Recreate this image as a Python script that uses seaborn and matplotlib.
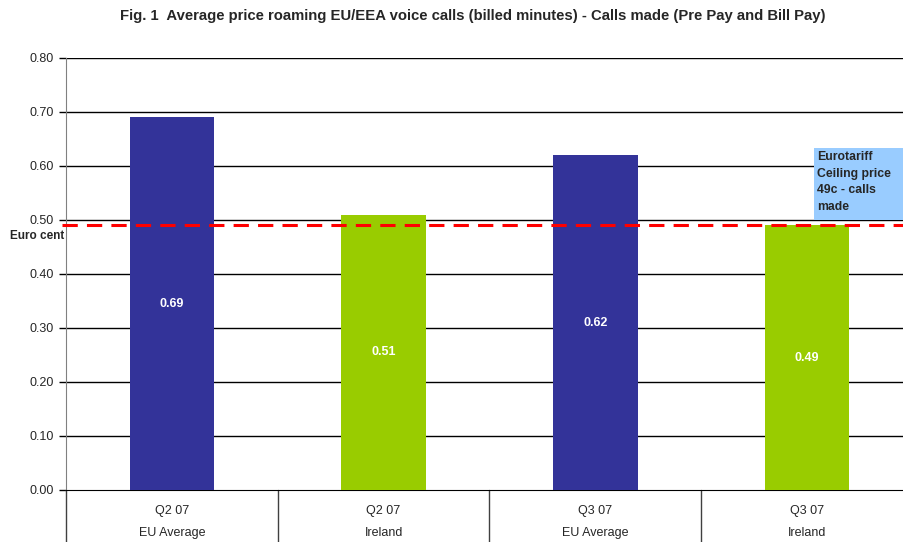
import matplotlib
matplotlib.use("Agg")
import matplotlib.pyplot as plt
import matplotlib.transforms as mtransforms
import seaborn as sns

# data
periods = ["Q2 07", "Q2 07", "Q3 07", "Q3 07"]
regions = ["EU Average", "Ireland", "EU Average", "Ireland"]
prices = [0.69, 0.51, 0.62, 0.49]
bar_colors = ["#333399", "#99cc00", "#333399", "#99cc00"]
ceiling = 0.49
ceiling_note = "Eurotariff\nCeiling price\n49c - calls\nmade"
yticks = [0.0, 0.1, 0.2, 0.3, 0.4, 0.5, 0.6, 0.7, 0.8]

cats = [p + "\n" + r for p, r in zip(periods, regions)]

sns.set_style("white")
plt.rcParams["font.family"] = ["Liberation Sans", "DejaVu Sans"]

fig = plt.figure(figsize=(9.04, 5.42), dpi=100)
W, H = 904, 542
# axes from x=66 to ~913 (runs past the right edge), y from 58 to 490
ax = fig.add_axes([66 / W, 1 - 490 / H, (913 - 66) / W, (490 - 58) / H])

sns.barplot(x=cats, y=prices, hue=cats, palette=bar_colors, legend=False,
            width=0.4, saturation=1, linewidth=0, ax=ax, zorder=3)

ax.set_ylim(0, 0.8)
ax.set_xlim(-0.5, len(cats) - 0.5)
ax.set_yticks(yticks)
ax.set_yticklabels([f"{t:.2f}" for t in yticks], fontsize=9)
for t in yticks[1:]:
    ax.axhline(t, color="black", lw=1, zorder=1)

for s in ["top", "right"]:
    ax.spines[s].set_visible(False)
ax.spines["left"].set_color("#808080")
ax.spines["bottom"].set_color("black")
ax.tick_params(axis="y", length=5, width=1, color="black", pad=4, left=True)
ax.tick_params(axis="x", length=0, pad=11)
ax.set_xticks(range(len(cats)))
ax.set_xticklabels(cats, fontsize=9, linespacing=2.1)

# category dividers below the axis
trans = mtransforms.blended_transform_factory(ax.transData, ax.transAxes)
for xb in [-0.5, 0.5, 1.5, 2.5]:
    ax.plot([xb, xb], [0, -0.13], transform=trans, color="#404040", lw=1, clip_on=False)

# value labels
for i, v in enumerate(prices):
    ax.text(i, v / 2, f"{v:.2f}", color="white", fontsize=9, fontweight="bold",
            ha="center", va="center", zorder=4)

# ceiling line
ax.axhline(ceiling, color="#ff0000", lw=2.2, ls=(0, (5, 3)), zorder=5, xmin=-0.005, clip_on=False)
fig.text(10 / W, 1 - 236 / H, "Euro cent", fontsize=8.5, fontweight="bold", va="center", ha="left")

# note box
fig.patches.append(plt.Rectangle((814 / W, 1 - 220 / H), 100 / W, 72 / H,
                                 transform=fig.transFigure, facecolor="#99ccff",
                                 edgecolor="none", zorder=6))
fig.text(817 / W, 1 - 182 / H, ceiling_note, fontsize=8.8, fontweight="bold",
         va="center", ha="left", linespacing=1.5, zorder=7)

fig.text(473 / W, 1 - 16 / H,
         "Fig. 1  Average price roaming EU/EEA voice calls (billed minutes) - Calls made (Pre Pay and Bill Pay)",
         fontsize=10.7, fontweight="bold", ha="center", va="center")

fig.savefig("out.png", dpi=100)
